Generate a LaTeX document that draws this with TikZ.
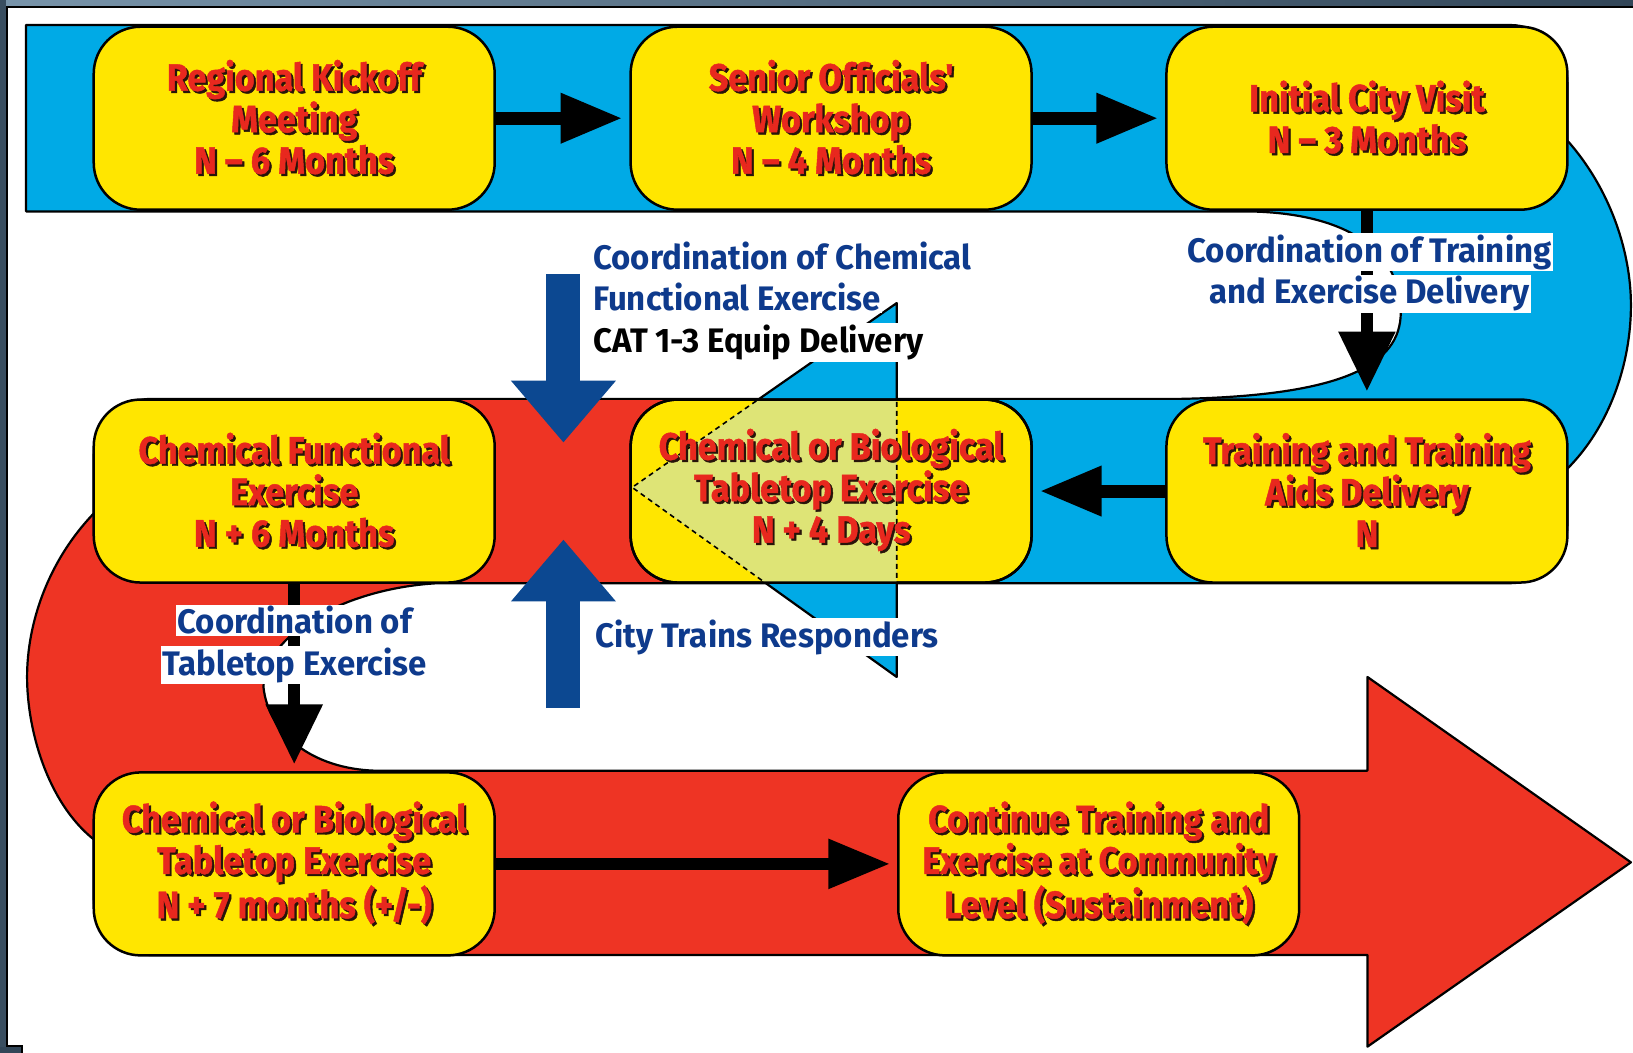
\documentclass[tikz,border=0pt]{standalone}
\usepackage{fontspec}
\usetikzlibrary{arrows.meta}
\newfontfamily\bxfont{Fira Sans}[FakeStretch=0.9, FakeBold=1.2]
\newfontfamily\lbfont{Fira Sans}[FakeStretch=0.97]
\definecolor{ribblue}{RGB}{0,170,230}
\definecolor{ribred}{RGB}{238,52,36}
\definecolor{boxyel}{RGB}{255,230,0}
\definecolor{arrblue}{RGB}{12,72,145}
\definecolor{lblblue}{RGB}{14,58,140}
\definecolor{txtred}{RGB}{232,40,30}
\definecolor{ovl}{RGB}{222,228,118}
\definecolor{frameA}{RGB}{120,148,170}
\definecolor{frameB}{RGB}{50,70,88}
\definecolor{shadowc}{RGB}{40,20,10}
\newcommand\sh[1]{\leavevmode\rlap{\textcolor{shadowc}{\hspace{2.2pt}\raisebox{-2.2pt}{#1}}}#1}
\newcommand\hl[1]{\colorbox{white}{#1}}
\setlength\fboxsep{1.5pt}
\begin{document}
\begin{tikzpicture}[x=1.0415pt,y=-1.0415pt,
  ybox/.style={draw=black, line width=2.5pt, fill=boxyel, rounded corners=47pt,
    minimum width=401pt, minimum height=183pt, outer sep=0pt, inner sep=0pt},
  btext/.style={font=\bxfont\bfseries\fontsize{38}{41.5}\selectfont, text=txtred,
    align=center, inner sep=0pt},
  lbl/.style={font=\lbfont\bfseries\fontsize{34}{41.5}\selectfont, text=lblblue,
    inner sep=0pt},
  ribbon/.style={line width=2.2pt, draw=black, line join=round},
  blackarr/.style={draw=black, line width=13pt, shorten >=8pt,
    -{Triangle[length=62pt,width=47pt]}},
  downarr/.style={draw=black, line width=12pt, shorten >=8pt,
    -{Triangle[length=60pt,width=54pt]}},
  bluearr/.style={draw=arrblue, line width=34pt,
    -{Triangle[length=62pt,width=101pt]}}
]
\useasboundingbox (0,0) rectangle (1568,1011);
% frame
\shade[left color=frameA, right color=frameB] (0,0) rectangle (1568,6);
\fill[frameB!90!frameA] (0,0) rectangle (6,1011);
\draw[black, line width=2pt] (1568,6.5) -- (6.5,6.5) -- (6.5,1004) -- (21,1004) -- (21,1011);
\fill[frameB] (0,1005) rectangle (20,1011);

% blue ribbon
\path[ribbon, fill=ribblue] (25,24) -- (1450,24) .. controls (1480,24) and (1505,49) .. (1505,79)
  -- (1505,135) .. controls (1545,180) and (1566,240) .. (1566,293)
  .. controls (1566,350) and (1545,410) .. (1505,450)
  -- (1505,505) .. controls (1505,535) and (1480,560) .. (1450,560)
  -- (861,560) -- (861,383) -- (1133,383)
  .. controls (1290,380) and (1345,350) .. (1345,300)
  .. controls (1345,245) and (1300,205) .. (1200,203) -- (25,203) -- cycle;

% red ribbon
\path[ribbon, fill=ribred] (861,383) -- (145,383) .. controls (115,383) and (90,408) .. (90,438)
  -- (90,493) .. controls (45,540) and (26,600) .. (26,650)
  .. controls (26,700) and (45,770) .. (90,806)
  -- (90,862) .. controls (90,892) and (115,917) .. (145,917)
  -- (1313,917) -- (1313,1005) -- (1566,828) -- (1313,650) -- (1313,740) -- (360,740)
  .. controls (300,738) and (258,705) .. (253,660)
  .. controls (253,610) and (330,565) .. (420,560) -- (861,560) -- cycle;

% blue arrowhead of the ribbon
\path[ribbon, fill=ribblue] (861,291) -- (607,468) -- (861,650) -- cycle;

% boxes
\node[ybox] (b1) at (282.5,113.5) {};
\node[ybox] (b2) at (798,113.5) {};
\node[ybox] (b3) at (1312.5,113.5) {};
\node[ybox] (b4) at (282.5,471.5) {};
\node[ybox] (b5) at (798,471.5) {};
\node[ybox] (b6) at (1312.5,471.5) {};
\node[ybox] (b7) at (282.5,829.5) {};
\node[ybox] (b8) at (1055,829.5) {};

% overlay of arrowhead on box 5
\begin{scope}
\clip[rounded corners=47pt] (b5.south west) rectangle (b5.north east);
\fill[ovl] (861,291) -- (607,468) -- (861,650) -- cycle;
\draw[line width=1.6pt, dash pattern=on 5pt off 4pt] (861,291) -- (607,468) -- (861,650) -- cycle;
\end{scope}
\draw[line width=2.5pt, rounded corners=47pt] (b5.south west) rectangle (b5.north east);

% black arrows
\draw[blackarr] (b1.east) -- (b2.west);
\draw[blackarr] (b2.east) -- (b3.west);
\draw[blackarr] (b6.west) -- (b5.east);
\draw[blackarr, line width=12pt] (b7.east) -- (b8.west);
\draw[downarr] (b3.south) -- (b6.north);
\draw[downarr] (b4.south) -- (b7.north);

% blue arrows
\coordinate (bd0) at (541,263);
\coordinate (bd1) at (541,425);
\coordinate (bu0) at (541,680);
\coordinate (bu1) at (541,518);
\draw[bluearr] (bd0) -- (bd1);
\draw[bluearr] (bu0) -- (bu1);

% box texts
\node[btext] (t1) at (b1) {\sh{Regional Kickoff}\\\sh{Meeting}\\\sh{N – 6 Months}};
\node[btext] (t2) at (b2) {\sh{Senior Officials'}\\\sh{Workshop}\\\sh{N – 4 Months}};
\node[btext] (t3) at (b3) {\sh{Initial City Visit}\\\sh{N – 3 Months}};
\node[btext] (t4) at (b4) {\sh{Chemical Functional}\\\sh{Exercise}\\\sh{N + 6 Months}};
\node[btext] (t5) at (b5) {\sh{Chemical or Biological}\\\sh{Tabletop Exercise}\\\sh{N + 4 Days}};
\node[btext] (t6) at (b6) {\sh{Training and Training}\\\sh{Aids Delivery}\\\sh{N}};
\node[btext] (t7) at (b7) {\sh{Chemical or Biological}\\\sh{Tabletop Exercise}\\\sh{N + 7 months (+/-)}};
\node[btext] (t8) at (b8) {\sh{Continue Training and}\\\sh{Exercise at Community}\\\sh{Level (Sustainment)}};

% labels
\node[lbl, anchor=west, align=left] (l1) at (568,289)
  {\hl{Coordination of Chemical}\\\hl{Functional Exercise}\\\hl{\color{black}CAT 1-3 Equip Delivery}};
\node[lbl, align=center] (l2) at (1315,262) {\hl{Coordination of Training}\\\hl{and Exercise Delivery}};
\node[lbl, align=center] (l3) at (283,619) {\hl{Coordination of}\\\hl{Tabletop Exercise}};
\node[lbl, anchor=west] (l4) at (570,612) {\hl{City Trains Responders}};
\end{tikzpicture}
\end{document}
